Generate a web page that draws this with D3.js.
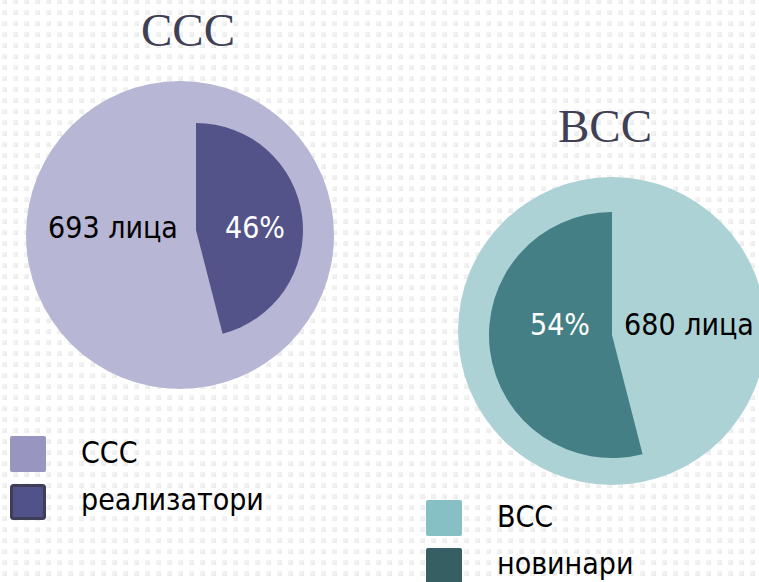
<!DOCTYPE html>
<html>
<head>
<meta charset="utf-8">
<script src="https://cdn.jsdelivr.net/npm/d3@7"></script>
<style>
  body { margin: 0; background: #fff; }
  svg { display: block; }
</style>
</head>
<body>
<div id="general"></div>
<script>
// values
const titles = ["ССС", "ВСС"];
const totals = [693, 680];          // people in each group
const shares = [46, 54];            // % in the inner wedge
const legendTop = ["ССС", "ВСС"];
const legendBottom = ["реализатори", "новинари"];

const w = 759, h = 582;
const sans = "'DejaVu Sans Condensed', 'DejaVu Sans', Verdana, sans-serif";

// layout for each of the two panels
const panels = [
  {cx: 180, cy: 235, r: 154, ix: 196, iy: 230, ir: 107, wedgeAtStart: true,
   outer: "#b7b6d4", inner: "#53538a", titleX: 188, titleY: 46,
   totalX: 113, pctX: 255, labelY: 238,
   legX: 10, legY: 436, sw1: "#9895c0", sw2: "#52528a", swStroke: "#3e3e58"},
  {cx: 612, cy: 331, r: 154, ix: 612, iy: 335, ir: 123, wedgeAtStart: false,
   outer: "#acd2d5", inner: "#437f84", titleX: 605, titleY: 142,
   totalX: 689, pctX: 560, labelY: 335,
   legX: 426, legY: 500, sw1: "#86bfc4", sw2: "#355f63", swStroke: null}
];

const svg = d3.select("#general").append("svg")
  .attr("width", w).attr("height", h)
  .attr("viewBox", `0 0 ${w} ${h}`);

// dotted background
const defs = svg.append("defs");
const pat = defs.append("pattern")
  .attr("id", "dots").attr("patternUnits", "userSpaceOnUse")
  .attr("width", 11).attr("height", 11).attr("x", 2).attr("y", 10);
const grad = defs.append("linearGradient").attr("id", "dotg")
  .attr("x1", 0).attr("y1", 0).attr("x2", 1).attr("y2", 1);
grad.append("stop").attr("offset", "0%").attr("stop-color", "#f7f7f7");
grad.append("stop").attr("offset", "100%").attr("stop-color", "#e9e9e9");
pat.append("rect").attr("width", 5).attr("height", 5).attr("fill", "url(#dotg)");
svg.append("rect").attr("width", w).attr("height", h).attr("fill", "#fff");
svg.append("rect").attr("width", w).attr("height", h).attr("fill", "url(#dots)");

const angle = d3.scaleLinear().domain([0, 100]).range([0, 2 * Math.PI]);

panels.forEach((p, i) => {
  const g = svg.append("g");

  g.append("text")
    .attr("x", p.titleX).attr("y", p.titleY)
    .attr("text-anchor", "middle")
    .attr("font-family", "'Liberation Serif', 'DejaVu Serif', serif")
    .attr("font-size", 47)
    .attr("fill", "#3f3f55")
    .text(titles[i]);

  g.append("circle")
    .attr("cx", p.cx).attr("cy", p.cy).attr("r", p.r)
    .attr("fill", p.outer);

  const a0 = p.wedgeAtStart ? 0 : angle(100 - shares[i]);
  const a1 = p.wedgeAtStart ? angle(shares[i]) : angle(100);
  const arc = d3.arc().innerRadius(0).outerRadius(p.ir);
  g.append("path")
    .attr("transform", `translate(${p.ix},${p.iy})`)
    .attr("d", arc({startAngle: a0, endAngle: a1}))
    .attr("fill", p.inner);

  const lab = g.append("g")
    .attr("font-family", sans)
    .attr("font-size", 30)
    .attr("text-anchor", "middle");
  lab.append("text").attr("x", p.totalX).attr("y", p.labelY)
    .attr("fill", "#000").text(`${totals[i]} лица`);
  lab.append("text").attr("x", p.pctX).attr("y", p.labelY)
    .attr("fill", "#fff").text(`${shares[i]}%`);

  // legend
  const leg = g.append("g").attr("transform", `translate(${p.legX},${p.legY})`);
  leg.append("rect").attr("x", 0).attr("y", 0).attr("width", 36).attr("height", 36)
    .attr("rx", 2).attr("fill", p.sw1);
  leg.append("rect").attr("x", p.swStroke ? 1.5 : 0).attr("y", p.swStroke ? 49.5 : 48)
    .attr("width", p.swStroke ? 33 : 36).attr("height", p.swStroke ? 33 : 36)
    .attr("rx", 2).attr("fill", p.sw2)
    .attr("stroke", p.swStroke).attr("stroke-width", p.swStroke ? 3 : 0);
  const lt = leg.append("g")
    .attr("font-family", sans)
    .attr("font-size", 30).attr("fill", "#000");
  lt.append("text").attr("x", 71).attr("y", 27).text(legendTop[i]);
  lt.append("text").attr("x", 71).attr("y", 74).text(legendBottom[i]);
});
</script>
</body>
</html>
